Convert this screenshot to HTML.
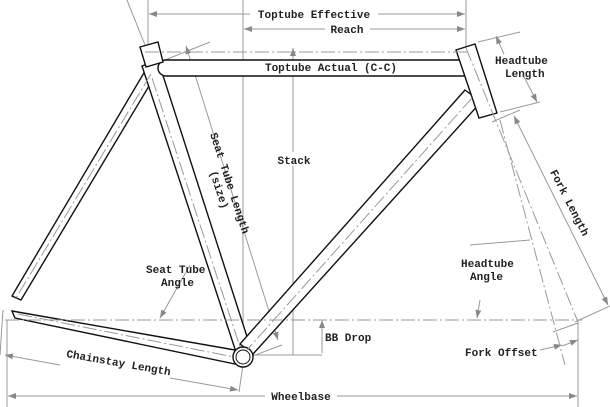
<!DOCTYPE html>
<html><head><meta charset="utf-8"><style>
html,body{margin:0;padding:0;background:#fff;}
svg{display:block}
text{font-family:"Liberation Mono",monospace;font-size:11px;fill:#222;font-weight:bold}
</style></head><body>
<svg width="610" height="407" viewBox="0 0 610 407" xmlns="http://www.w3.org/2000/svg">
<defs>
<marker id="a" markerWidth="8" markerHeight="6" refX="8" refY="3" orient="auto-start-reverse" markerUnits="userSpaceOnUse"><path d="M0,0 L8,3 L0,6 z" fill="#888"/></marker>
</defs>
<g stroke="#999" stroke-width="1" fill="none">
<line x1="148" y1="0" x2="148" y2="44"/>
<line x1="243" y1="0" x2="243" y2="355"/>
<line x1="466" y1="0" x2="466" y2="50"/>
<line x1="127" y1="0" x2="145" y2="45"/>
<line x1="149" y1="14" x2="250" y2="14" marker-start="url(#a)"/>
<line x1="378" y1="14" x2="465" y2="14" marker-end="url(#a)"/>
<line x1="244" y1="29" x2="325" y2="29" marker-start="url(#a)"/>
<line x1="370" y1="29" x2="465" y2="29" marker-end="url(#a)"/>
<line x1="162" y1="67" x2="265" y2="67" marker-start="url(#a)"/>
<line x1="398" y1="67" x2="466" y2="67" marker-end="url(#a)"/>
<line x1="293" y1="355" x2="293" y2="48" marker-end="url(#a)"/>
<line x1="248" y1="355" x2="322" y2="355"/>
<line x1="322" y1="353" x2="322" y2="320" marker-end="url(#a)"/>
<line x1="8" y1="396" x2="265" y2="396" marker-start="url(#a)"/>
<line x1="337" y1="396" x2="577" y2="396" marker-end="url(#a)"/>
<line x1="7" y1="320" x2="7" y2="407"/>
<line x1="578" y1="322" x2="578" y2="407"/>
<line x1="5" y1="355" x2="60" y2="365" marker-start="url(#a)"/>
<line x1="170" y1="378" x2="238" y2="390" marker-end="url(#a)"/>
<line x1="3" y1="310" x2="0" y2="355"/>
<line x1="243" y1="365" x2="239" y2="392"/>
<line x1="160" y1="62" x2="210" y2="42"/>
<line x1="186" y1="46" x2="278" y2="340" marker-start="url(#a)" marker-end="url(#a)"/>
<line x1="250" y1="357" x2="282" y2="345"/>
<line x1="478" y1="42" x2="520" y2="32"/>
<line x1="500" y1="112" x2="540" y2="102"/>
<line x1="523" y1="75" x2="537" y2="102" marker-end="url(#a)"/>
<line x1="504" y1="54" x2="496" y2="36" marker-end="url(#a)"/>
<line x1="492" y1="122" x2="520" y2="110"/>
<line x1="514" y1="116" x2="608" y2="305" marker-start="url(#a)" marker-end="url(#a)"/>
<line x1="575" y1="322" x2="610" y2="306"/>
<line x1="190" y1="265" x2="160" y2="318" marker-end="url(#a)"/>
<line x1="480" y1="300" x2="477" y2="318" marker-end="url(#a)"/>
<line x1="470" y1="245" x2="530" y2="240"/>
<line x1="540" y1="350" x2="562" y2="345" marker-end="url(#a)"/>
<line x1="553" y1="332" x2="578" y2="323"/>
<line x1="578" y1="340" x2="562" y2="346" marker-start="url(#a)"/>
</g>
<g stroke="#111" stroke-width="1.4" fill="#fff">
<path d="M12,296 L148,66 L158,71 L21,300 Z"/>
<path d="M12,311 L235,350 L235,364 L15,318 Z"/>
<path d="M142,66 L158,60 L250,346 L236,352 Z"/>
<path d="M465,90 L481,102 L253,354 L240,344 Z"/>
<path d="M166,60 L466,60 A8,8 0 0 1 466,76 L166,76 A8,8 0 0 1 166,60 Z"/>
<path d="M140,47 L158,42 L163,62 L146,67 Z"/>
<path d="M456,50 L475,44 L497,113 L479,118 Z"/>
<circle cx="243" cy="357" r="10"/>
<circle cx="243" cy="357" r="7" fill="none" stroke-width="1"/>
</g>
<g stroke="#999" stroke-width="1" fill="none" stroke-dasharray="14,3,2,3">
<line x1="5" y1="320" x2="582" y2="320"/>
<line x1="145" y1="52" x2="470" y2="52"/>
<line x1="152" y1="78" x2="241" y2="350"/>
<line x1="472" y1="98" x2="247" y2="350"/>
<line x1="151" y1="74" x2="16" y2="298"/>
<line x1="18" y1="314" x2="234" y2="357"/>
<line x1="466" y1="48" x2="578" y2="322"/>
<line x1="500" y1="120" x2="565" y2="365"/>
</g>
<g>
<rect x="250" y="6" width="128" height="14" fill="#fff"/>
<text x="314" y="18" text-anchor="middle">Toptube Effective</text>
<rect x="325" y="22" width="44" height="14" fill="#fff"/>
<text x="347" y="33" text-anchor="middle">Reach</text>
<rect x="266" y="61" width="131" height="12" fill="#fff"/>
<text x="331" y="71" text-anchor="middle">Toptube Actual (C-C)</text>
<rect x="276" y="152" width="36" height="14" fill="#fff"/>
<text x="294" y="164" text-anchor="middle">Stack</text>
<text x="495" y="64">Headtube</text>
<text x="505" y="77">Length</text>
<g transform="translate(210,134) rotate(72)">
<text x="0" y="0">Seat Tube Length</text>
<text x="36" y="12">(size)</text>
</g>
<text x="0" y="0" transform="translate(550,172) rotate(63)">Fork Length</text>
<text x="146" y="273">Seat Tube</text>
<text x="161" y="286">Angle</text>
<text x="461" y="267">Headtube</text>
<text x="470" y="280">Angle</text>
<text x="325" y="341">BB Drop</text>
<text x="465" y="356">Fork Offset</text>
<text x="0" y="0" transform="translate(66,357) rotate(10)">Chainstay Length</text>
<text x="301" y="400" text-anchor="middle">Wheelbase</text>
</g>
</svg>
</body></html>
